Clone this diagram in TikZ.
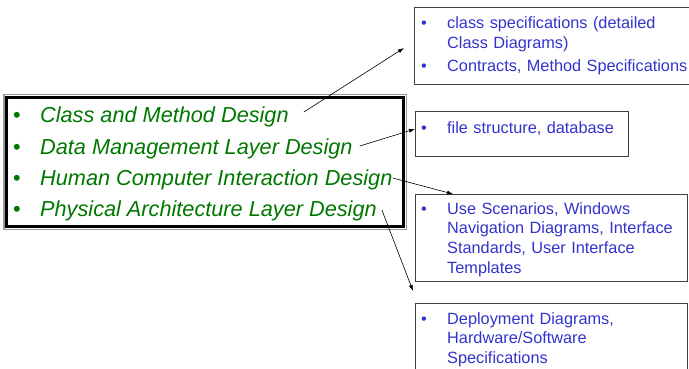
\documentclass[tikz,border=0pt]{standalone}
\usepackage{fontspec}
\setmainfont{Liberation Sans}
\usetikzlibrary{arrows.meta}
\definecolor{dsgreen}{RGB}{0,120,0}
\definecolor{dsblue}{RGB}{51,51,204}
\tikzset{
  mainframe/.style={rectangle,draw=black,line width=3pt,minimum width=397pt,minimum height=129pt,inner sep=0pt,outer sep=0pt},
  frameshade/.style={draw=black!40,line width=1.2pt},
  bulletnode/.style={anchor=base west,inner sep=0pt,font=\fontsize{21.7}{26}\selectfont,text=dsgreen},
  designitem/.style={anchor=base west,inner sep=0pt,font=\fontsize{21.7}{26}\selectfont\itshape,text=dsgreen},
  specbox/.style={rectangle,draw=black!75,line width=1pt,anchor=north west,inner sep=0pt,outer sep=0pt},
  specbullet/.style={anchor=base west,inner sep=0pt,font=\fontsize{16.3}{19.7}\selectfont,text=dsblue},
  speclist/.style={anchor=base west,inner sep=0pt,text width=245pt,align=left,font=\fontsize{16.3}{19.7}\selectfont,text=dsblue},
  maparrow/.style={-{Latex[length=6pt,width=4pt]},line width=0.6pt,draw=black}
}

\begin{document}
\begin{tikzpicture}[x=1pt,y=-1pt]
  \useasboundingbox (0,0) rectangle (689,369);
  % design activities
  \node[mainframe] (design) at (205,162) {};
  \draw[frameshade] ([shift={(-2.6pt,2.6pt)}]design.north west) rectangle ([shift={(2.6pt,-2.6pt)}]design.south east);
  \node[bulletnode] (b1) at (13,123) {\textbullet};
  \node[bulletnode] (b2) at (13,154) {\textbullet};
  \node[bulletnode] (b3) at (13,185) {\textbullet};
  \node[bulletnode] (b4) at (13,216) {\textbullet};
  \node[designitem] (cmd) at (40,123) {Class and Method Design};
  \node[designitem] (dml) at (40,154) {Data Management Layer Design};
  \node[designitem] (hci) at (40,185) {Human Computer Interaction Design};
  \node[designitem] (pal) at (40,216) {Physical Architecture Layer Design};
  % deliverables
  \node[specbox,minimum width=285pt,minimum height=77pt] (clsbox) at (414,8) {};
  \node[specbullet] (clsb1) at (421,29) {\textbullet};
  \node[speclist] (clsspec) at (447,29) {class specifications (detailed\\Class Diagrams)};
  \node[specbullet] (clsb2) at (421,72) {\textbullet};
  \node[speclist] (contract) at (447,72) {Contracts, Method Specifications};
  \node[specbox,minimum width=213pt,minimum height=44pt] (filebox) at (415,112) {};
  \node[specbullet] (fileb) at (421,133) {\textbullet};
  \node[speclist] (filelist) at (447,133) {file structure, database};
  \node[specbox,minimum width=272pt,minimum height=87pt] (uibox) at (415,194) {};
  \node[specbullet] (uib) at (421,214) {\textbullet};
  \node[speclist] (uilist) at (447,214) {Use Scenarios, Windows\\Navigation Diagrams, Interface\\Standards, User Interface\\Templates};
  \node[specbox,minimum width=272pt,minimum height=75pt] (depbox) at (415,303) {};
  \node[specbullet] (depb) at (421,324) {\textbullet};
  \node[speclist] (deplist) at (447,324) {Deployment Diagrams,\\Hardware/Software\\Specifications};
  % links
  \draw[maparrow] ([xshift=15pt,yshift=11pt]cmd.base east) -- ([xshift=-10pt,yshift=-1.5pt]clsbox.west);
  \draw[maparrow] ([xshift=7pt,yshift=8pt]dml.base east) -- ([yshift=-17pt]filebox.north west);
  \draw[maparrow] ([yshift=7pt]hci.base east) -- ([xshift=38pt]uibox.north west);
  \draw[maparrow] ([xshift=5pt,yshift=6pt]pal.base east) -- ([xshift=-2pt,yshift=12pt]depbox.north west);
\end{tikzpicture}
\end{document}
